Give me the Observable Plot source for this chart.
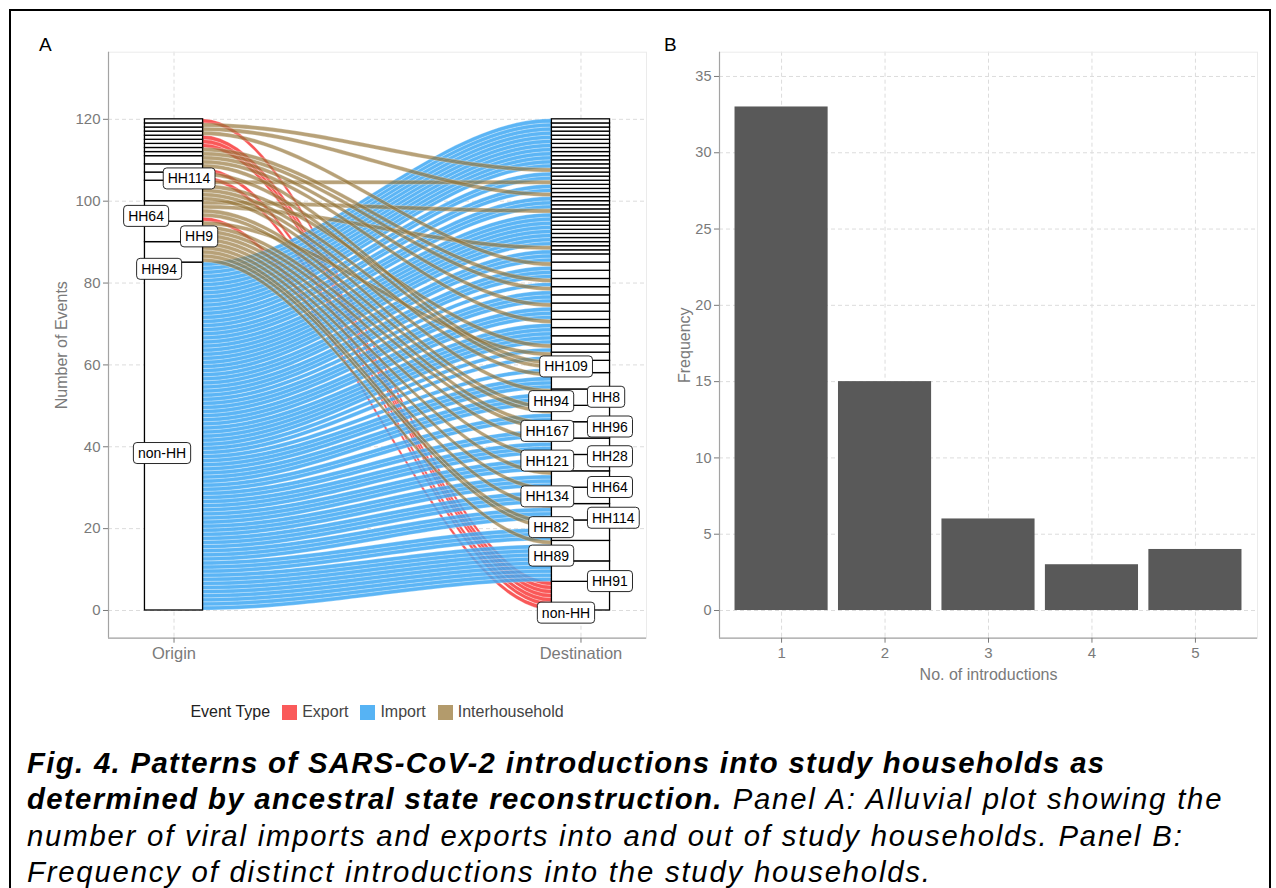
<!DOCTYPE html>
<html>
<head>
<meta charset="utf-8">
<script src="https://cdn.jsdelivr.net/npm/d3@7"></script>
<script src="https://cdn.jsdelivr.net/npm/@observablehq/plot@0.6"></script>
<style>
  body { margin: 0; background: #fff; font-family: "Liberation Sans", Arial, Helvetica, sans-serif; }
  #page { position: relative; width: 1276px; height: 888px; overflow: hidden; background: #fff; }
  #border { position: absolute; left: 9px; top: 9px; width: 1258px; height: 1000px; border: 2px solid #000; }
  .tag { position: absolute; font-size: 19px; color: #000; }
  #panelA { position: absolute; left: 20px; top: 30px; }
  #panelB { position: absolute; left: 660px; top: 30px; }
  #legend { position: absolute; left: 108px; width: 538px; top: 703px; display: flex; justify-content: center; align-items: center; font-size: 16px; color: #222; }
  #legend .sw { width: 15px; height: 15px; display: inline-block; margin-right: 5px; }
  #legend .it { display: flex; align-items: center; margin-left: 12px; color: #444; }
  #caption { position: absolute; left: 27px; top: 745px; width: 1200px; font-size: 29.3px; letter-spacing: 1.8px; font-style: italic; line-height: 36.3px; color: #000; }
  #caption b { letter-spacing: 1.35px; }
</style>
</head>
<body>
<div id="page">
  <div id="border"></div>
  <div class="tag" style="left:39px;top:34px">A</div>
  <div class="tag" style="left:664px;top:34px">B</div>
  <div id="panelA"></div>
  <div id="panelB"></div>
  <div id="legend"></div>
  <div id="caption"><b>Fig. 4. Patterns of SARS-CoV-2 introductions into study households as determined by ancestral state reconstruction.</b> Panel A: Alluvial plot showing the number of viral imports and exports into and out of study households. Panel B: Frequency of distinct introductions into the study households.</div>
</div>
<script>
// ---------------- DATA ----------------
// Panel A: alluvial (origin strata bottom -> top)
const originNames = ["non-HH","HH94","HH9","HH64","HH114","V1","V2","V3","V4","V5","V6","V7","V8","V9","V10","V11","V12"];
// destination strata bottom -> top
const destNames = ["non-HH","HH91","HH89","HH82","HH114","HH134","HH64","HH121","HH28","HH167","HH96","HH94","HH8","HH109",
  "U01","U02","U03","U04","U05","U06","U07","U08","U09","U10","U11","U12","U13",
  "U14","U15","U16","U17","U18","U19","U20","U21","U22","U23","U24","U25","U26","U27","U28","U29","U30",
  "U31","U32","U33","U34","U35","U36","U37","U38","U39","U40","U41","U42","U43","U44","U45","U46"];
// number of imports (non-HH -> household) arriving in each destination stratum
const destImports = [0,5,4,3,3,3,3,3,3,2,2,3,3,1,
  1,1,2,2,1,2,1,2,1,1,2,1,2,
  1,0,1,1,1,1,1,1,1,1,0,1,1,1,0,1,1,
  0,1,1,0,1,1,1,1,1,1,1,1,1,1,1,1];
// exports (household -> non-HH), one entry per event
const exportFrom = ["HH64","V1","V2","V6","V7","V8","V12"];
// interhousehold events
const interFrom = ["HH94","HH94","HH94","HH94","HH94","HH9","HH9","HH9","HH9","HH9","HH64","HH64","HH64","HH64",
  "HH114","HH114","HH114","HH114","HH114","V1","V2","V3","V3","V4","V5","V9","V10","V11"];
const interTo = ["HH89","HH82","HH82","HH114","HH134","HH64","HH121","HH28","HH167","U01","HH167","HH96","U15","U24",
  "HH96","HH94","HH8","U02","U31","HH109","HH109","U05","U07","U09","U10","U12","U28","U34"];
const axisNames = ["Origin","Destination"];
const eventTypes = ["Export","Import","Interhousehold"];

// Panel B
const introductions = [1,2,3,4,5];
const frequency = [33,15,6,3,4];

// ---------------- STYLE ----------------
const FONT = '"Liberation Sans", Arial, Helvetica, sans-serif';
const typeFill = {Export:"#f94f4f", Import:"#3fa8f3", Interhousehold:"#957538"};
const typeOpacity = {Export:0.95, Import:0.85, Interhousehold:0.68};
const legendColor = {Export:"#fa5a5a", Import:"#56b3f4", Interhousehold:"#b39b6c"};
const gridStyle = {stroke:"#dcdcdc", strokeOpacity:1, strokeDasharray:"4,3", strokeWidth:1};
const axisLineColor = "#a3a3a3";
// label nudges (imitating repelled labels): [dx px, dy px, anchor]
const originLabelNudge = {"non-HH":[-12,17,"middle"],"HH94":[-15,17,"middle"],"HH9":[25,5,"middle"],"HH64":[-28,5,"middle"],"HH114":[15,-12,"middle"]};
const destLabelNudge = {"non-HH":[-15,17,"middle"],"HH91":[11,10,"start"],"HH89":[-12,5,"end"],"HH82":[-12,-3,"end"],
  "HH114":[11,6,"start"],"HH134":[-12,1,"end"],"HH64":[11,8,"start"],"HH121":[-12,-2,"end"],"HH28":[11,10,"start"],
  "HH167":[-12,1,"end"],"HH96":[11,13,"start"],"HH94":[-12,4,"end"],"HH8":[11,16,"start"],"HH109":[-15,0,"middle"]};

// ---------------- LAYOUT (alluvial stacking) ----------------
const events = [];
destNames.forEach((d, i) => { for (let k = 0; k < destImports[i]; k++) events.push({o:"non-HH", d, type:"Import"}); });
exportFrom.forEach(o => events.push({o, d:"non-HH", type:"Export"}));
interFrom.forEach((o, i) => events.push({o, d:interTo[i], type:"Interhousehold"}));
events.forEach((e, i) => e.id = i);
const oi = new Map(originNames.map((n, i) => [n, i]));
const di = new Map(destNames.map((n, i) => [n, i]));
let acc = 0;
events.slice().sort((a,b) => oi.get(a.o)-oi.get(b.o) || di.get(a.d)-di.get(b.d) || a.id-b.id)
  .forEach(e => { e.oy0 = acc; acc += 1; e.oy1 = acc; });
acc = 0;
events.slice().sort((a,b) => di.get(a.d)-di.get(b.d) || oi.get(a.o)-oi.get(b.o) || a.id-b.id)
  .forEach(e => { e.dy0 = acc; acc += 1; e.dy1 = acc; });

const W = 1/7;
function strataOf(names, key, y0k, y1k, axis) {
  return names.map(n => {
    const ev = events.filter(e => e[key] === n);
    return {name:n, axis, count:ev.length, y1:d3.min(ev, e => e[y0k]), y2:d3.max(ev, e => e[y1k]), x1:axis - W/2, x2:axis + W/2};
  }).filter(s => s.count > 0);
}
const originStrata = strataOf(originNames, "o", "oy0", "oy1", 1);
const destStrata = strataOf(destNames, "d", "dy0", "dy1", 2);
const strata = originStrata.concat(destStrata);

const xa = 1 + W/2, xb = 2 - W/2, N = 40;
const pts = [];
events.forEach(e => {
  for (let k = 0; k <= N; k++) {
    const t = k / N, s = t*t*(3 - 2*t);
    pts.push({id:e.id, type:e.type, x:xa + (xb - xa)*t,
      y1:e.oy0 + (e.dy0 - e.oy0)*s, y2:e.oy1 + (e.dy1 - e.oy1)*s});
  }
});

const labelMarks = [];
strata.filter(s => s.count >= 3).forEach(s => {
  const nud = (s.axis === 1 ? originLabelNudge : destLabelNudge)[s.name] || [0,0,"middle"];
  labelMarks.push(Plot.text([{x:s.axis, y:(s.y1 + s.y2)/2, text:s.name}], {
    x:"x", y:"y", text:"text", dx:nud[0], dy:nud[1], textAnchor:nud[2],
    fill:"black", fontSize:14, className:"lbl"}));
});

// ---------------- PANEL A ----------------
const xDomA = [0.839, 2.161], yDomA = [-6.77, 136.4];
const yTicksA = [0,20,40,60,80,100,120];
const flowMarks = ["Export","Import","Interhousehold"].map(tp =>
  Plot.areaY(pts.filter(p => p.type === tp), {x:"x", y1:"y1", y2:"y2", z:"id", curve:"linear",
    fill:typeFill[tp], fillOpacity:typeOpacity[tp], stroke:"white", strokeWidth:0.45, strokeOpacity:0.6}));

const plotA = Plot.plot({
  width:640, height:650, marginLeft:88, marginRight:14, marginTop:21.7, marginBottom:42.3,
  style:{fontFamily:FONT, fontSize:"15px", color:"#7a7a7a", background:"transparent"},
  x:{domain:xDomA}, y:{domain:yDomA},
  marks:[
    Plot.gridY({ticks:yTicksA, ...gridStyle}),
    Plot.gridX({ticks:[1,2], ...gridStyle}),
    Plot.frame({stroke:"#ebebeb"}),
    ...flowMarks,
    Plot.rect(strata, {x1:"x1", x2:"x2", y1:"y1", y2:"y2", fill:"white", stroke:"black", strokeWidth:1.3}),
    ...labelMarks,
    Plot.ruleX([xDomA[0]], {stroke:axisLineColor, strokeWidth:1.2}),
    Plot.ruleY([yDomA[0]], {stroke:axisLineColor, strokeWidth:1.2}),
    Plot.axisY({ticks:yTicksA, tickSize:5, tickPadding:3, fontSize:15, label:null}),
    Plot.axisY({ticks:[], tickSize:0, fontSize:16, label:"Number of Events",
      labelAnchor:"center", labelArrow:"none", labelOffset:53}),
    Plot.axisX({ticks:[1,2], tickFormat:d => axisNames[d-1], tickSize:5, tickPadding:4, fontSize:16.5, label:null})
  ]
});
document.getElementById("panelA").appendChild(plotA);

// ---------------- PANEL B ----------------
const barData = introductions.map((n, i) => ({n, f:frequency[i]}));
const xDomB = [0.4, 5.6], yDomB = [-1.815, 36.59];
const yTicksB = [0,5,10,15,20,25,30,35];
const plotB = Plot.plot({
  width:610, height:672, marginLeft:59, marginRight:13, marginTop:21.7, marginBottom:64.3,
  style:{fontFamily:FONT, fontSize:"15px", color:"#7a7a7a", background:"transparent"},
  x:{domain:xDomB}, y:{domain:yDomB},
  marks:[
    Plot.gridY({ticks:yTicksB, ...gridStyle}),
    Plot.gridX({ticks:introductions, ...gridStyle}),
    Plot.frame({stroke:"#ebebeb"}),
    Plot.rectY(barData, {x1:d => d.n - 0.45, x2:d => d.n + 0.45, y:"f", fill:"#595959"}),
    Plot.ruleX([xDomB[0]], {stroke:axisLineColor, strokeWidth:1.2}),
    Plot.ruleY([yDomB[0]], {stroke:axisLineColor, strokeWidth:1.2}),
    Plot.axisY({ticks:yTicksB, tickSize:5, tickPadding:3, fontSize:14.5, label:null}),
    Plot.axisY({ticks:[], tickSize:0, fontSize:16, label:"Frequency",
      labelAnchor:"center", labelArrow:"none", labelOffset:41}),
    Plot.axisX({ticks:introductions, tickFormat:d3.format("d"), tickSize:5, tickPadding:4, fontSize:15, label:null}),
    Plot.axisX({ticks:[], tickSize:0, fontSize:16, label:"No. of introductions",
      labelAnchor:"center", labelArrow:"none", labelOffset:42})
  ]
});
document.getElementById("panelB").appendChild(plotB);

// ---------------- label boxes ----------------
d3.select(plotA).selectAll("g.lbl text").each(function() {
  const b = this.getBBox();
  const r = document.createElementNS("http://www.w3.org/2000/svg", "rect");
  const px = 4.5, py = 2.5;
  r.setAttribute("x", b.x - px); r.setAttribute("y", b.y - py);
  r.setAttribute("width", b.width + 2*px); r.setAttribute("height", b.height + 2*py);
  r.setAttribute("rx", 3.5); r.setAttribute("fill", "white");
  r.setAttribute("stroke", "#111"); r.setAttribute("stroke-width", 0.9);
  const tr = this.getAttribute("transform"); if (tr) r.setAttribute("transform", tr);
  this.parentNode.insertBefore(r, this);
});

// ---------------- legend ----------------
const leg = d3.select("#legend");
leg.append("span").text("Event Type").style("color", "#222");
eventTypes.forEach(t => {
  const it = leg.append("span").attr("class", "it");
  it.append("span").attr("class", "sw").style("background", legendColor[t]);
  it.append("span").text(t);
});
</script>
</body>
</html>
